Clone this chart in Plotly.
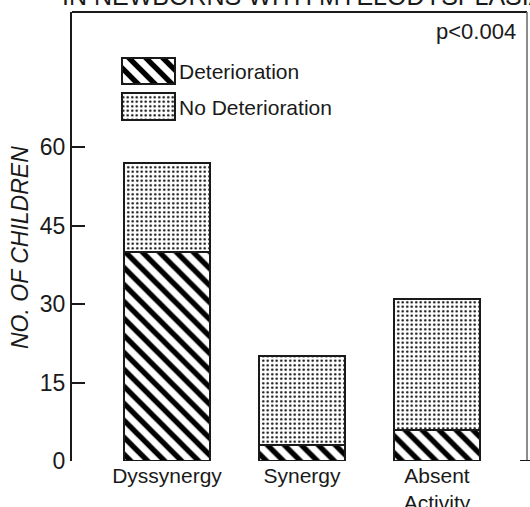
import plotly.graph_objects as go

categories = ["Dyssynergy", "Synergy", "Absent<br>Activity"]
deterioration = [40, 3, 6]
no_deterioration = [17, 17, 25]
y_ticks = [0, 15, 30, 45, 60]
series_names = ["Deterioration", "No Deterioration"]
title_text = "IN NEWBORNS WITH MYELODYSPLASIA"
p_text = "p<0.004"
y_title = "NO. OF CHILDREN"

FONT = "Liberation Sans"
INK = "#1a1a1a"
W, H = 530, 507
L, R, T, B = 72, 3, 12, 46
pw, ph = W - L - R, H - T - B

xpos = list(range(len(categories)))

hatch = dict(shape="\\", fgcolor="#000000", bgcolor="white", size=12, solidity=0.45, fgopacity=1)
dots = dict(shape=".", fgcolor="#000000", bgcolor="white", size=4.5, solidity=0.22, fgopacity=1)
outline = dict(color=INK, width=2.5)

fig = go.Figure()
fig.add_trace(go.Bar(x=xpos, y=deterioration, name=series_names[0], width=0.63,
                     marker=dict(color="white", pattern=hatch, line=outline), showlegend=False))
fig.add_trace(go.Bar(x=xpos, y=no_deterioration, name=series_names[1], width=0.63,
                     marker=dict(color="white", pattern=dots, line=outline), showlegend=False))

# legend swatches drawn on a small overlay axis
fig.add_trace(go.Bar(x=[1], y=[1], orientation="h", width=0.75, xaxis="x2", yaxis="y2",
                     marker=dict(color="white", pattern=hatch, line=outline), showlegend=False, hoverinfo="skip"))
fig.add_trace(go.Bar(x=[1], y=[0], orientation="h", width=0.75, xaxis="x2", yaxis="y2",
                     marker=dict(color="white", pattern=dots, line=outline), showlegend=False, hoverinfo="skip"))

def px_x(px):
    return (px - L) / pw

def px_y(py):
    return (H - B - py) / ph

ymax = ph / (78.5 / 15)
x0 = -95 / 135
x1 = (pw - 95) / 135

fig.update_layout(
    width=W, height=H,
    margin=dict(l=L, r=R, t=T, b=B, autoexpand=False),
    paper_bgcolor="white", plot_bgcolor="white",
    barmode="stack",
    font=dict(family=FONT, color=INK, size=20),
    xaxis=dict(range=[x0, x1], tickvals=xpos, ticktext=categories, showgrid=False,
               zeroline=False, showline=False, ticks="", tickfont=dict(size=21, color=INK)),
    yaxis=dict(range=[0, ymax], tickvals=y_ticks, showgrid=False, zeroline=False,
               showline=True, linecolor=INK, linewidth=2, ticks="inside", ticklen=13,
               tickwidth=2, tickcolor=INK, tickfont=dict(size=23, color=INK)),
    xaxis2=dict(domain=[px_x(121), px_x(176)], range=[-0.02, 1.02], visible=False, anchor="y2"),
    yaxis2=dict(domain=[px_y(128), px_y(50)], range=[(106.5 - 128) / 35.5, (106.5 - 50) / 35.5],
                visible=False, anchor="x2"),
    bargap=0,
)

shapes = [
    dict(type="line", xref="paper", yref="paper", x0=0, x1=1, y0=1, y1=1, line=dict(color=INK, width=2)),
    dict(type="line", xref="paper", yref="paper", x0=1, x1=1, y0=0, y1=1, line=dict(color="#666666", width=1.5)),
    dict(type="line", xref="paper", yref="y", x0=px_x(520), x1=px_x(532), y0=0, y1=0, line=dict(color=INK, width=2)),
]
fig.update_layout(shapes=shapes)

ann = [
    dict(text=series_names[0], x=px_x(177), y=px_y(71), xref="paper", yref="paper",
         xanchor="left", yanchor="middle", showarrow=False, font=dict(size=21)),
    dict(text=series_names[1], x=px_x(177), y=px_y(107), xref="paper", yref="paper",
         xanchor="left", yanchor="middle", showarrow=False, font=dict(size=21)),
    dict(text=p_text, x=px_x(518), y=px_y(32), xref="paper", yref="paper",
         xanchor="right", yanchor="middle", showarrow=False, font=dict(size=22)),
    dict(text=y_title, x=px_x(20), y=px_y(248), xref="paper", yref="paper", textangle=-90,
         xanchor="center", yanchor="middle", showarrow=False,
         font=dict(size=23, style="italic")),
    dict(text=title_text, x=px_x(304), y=px_y(-4), xref="paper", yref="paper",
         xanchor="center", yanchor="middle", showarrow=False, font=dict(size=25)),
]
fig.update_layout(annotations=ann)

fig.write_html("out.html", config={"displayModeBar": False},
               post_script="document.body.style.margin='0';")
